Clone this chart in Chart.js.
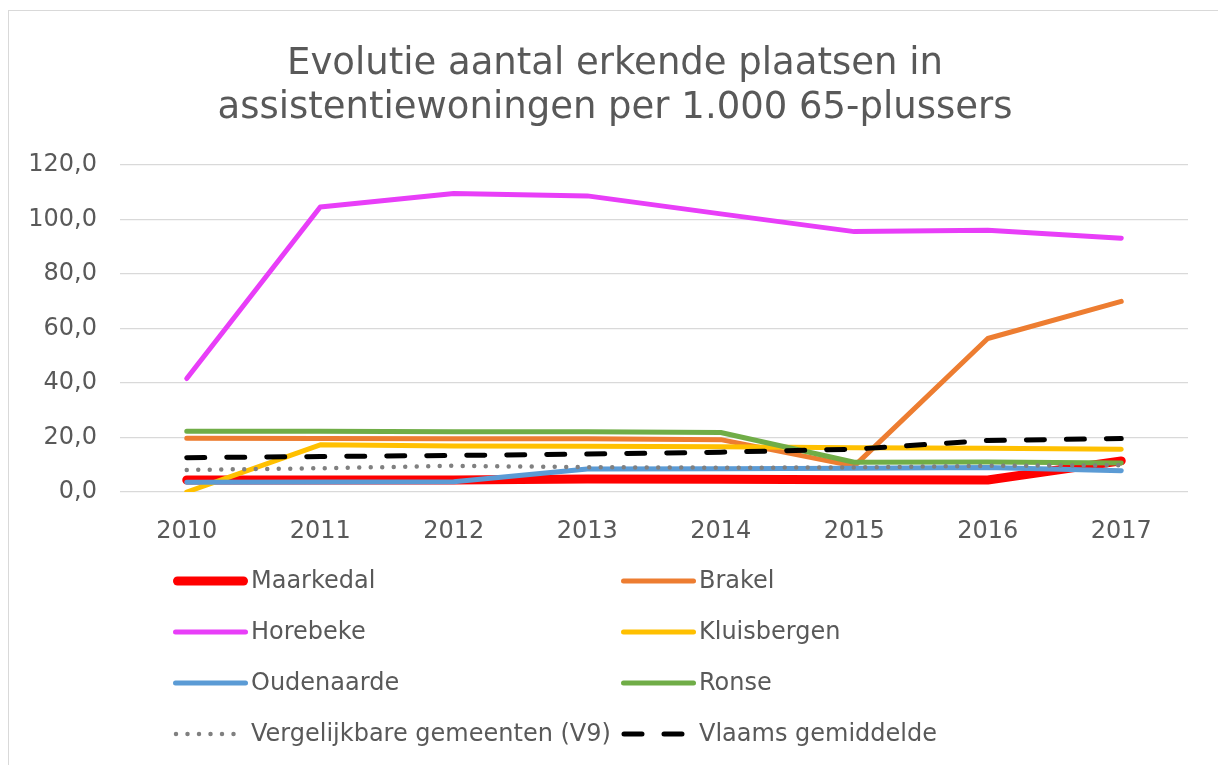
<!DOCTYPE html>
<html>
<head>
<meta charset="utf-8">
<script src="https://cdn.jsdelivr.net/npm/chart.js@4"></script>
<style>
html,body{margin:0;padding:0;background:#fff;overflow:hidden;}
#wrap{position:absolute;left:0;top:0;width:1218px;height:765px;}
#frame{position:absolute;left:8px;top:10px;width:1400px;height:1000px;border:1px solid #d9d9d9;box-sizing:border-box;}
canvas{position:absolute;left:0;top:0;}
</style>
</head>
<body>
<div id="wrap"><div id="frame"></div><canvas id="c" width="1218" height="765"></canvas></div>
<script>
const years = ['2010','2011','2012','2013','2014','2015','2016','2017'];
const seriesNames = ['Maarkedal','Brakel','Horebeke','Kluisbergen','Oudenaarde','Ronse','Vergelijkbare gemeenten (V9)','Vlaams gemiddelde'];
const maarkedal   = [4.4, 4.4, 4.4, 4.8, 4.7, 4.5, 4.4, 11.4];
const brakel      = [19.7, 19.6, 19.5, 19.5, 19.2, 9.5, 56.3, 69.9];
const horebeke    = [41.6, 104.5, 109.5, 108.6, 102.0, 95.5, 96.0, 93.1];
const kluisbergen = [0.0, 17.3, 16.9, 16.8, 16.6, 16.2, 16.0, 15.7];
const oudenaarde  = [3.6, 3.7, 3.8, 8.4, 8.5, 8.7, 9.0, 7.8];
const ronse       = [22.3, 22.3, 22.1, 22.1, 21.8, 10.9, 11.0, 10.6];
const v9          = [8.1, 8.7, 9.6, 9.1, 8.9, 9.0, 9.6, 9.8];
const vlaams      = [12.6, 13.0, 13.4, 13.9, 14.6, 15.7, 18.9, 19.6];
const yTicks = [0, 20, 40, 60, 80, 100, 120];
const titleLines = ['Evolutie aantal erkende plaatsen in', 'assistentiewoningen per 1.000 65-plussers'];

const FONT = "'DejaVu Sans', Verdana, sans-serif";
const TXT = '#595959';

const values = [maarkedal, brakel, horebeke, kluisbergen, oudenaarde, ronse, v9, vlaams];
const colors = ['#FF0000','#ED7D31','#E83EF8','#FFC000','#5B9BD5','#70AD47','#808080','#000000'];
const widths = [9, 5, 5, 5, 5, 5, 4.5, 5];
const dashes = [[],[],[],[],[],[],[0, 11.5],[18, 22]];

const datasets = values.map((v, i) => ({
  label: seriesNames[i],
  data: v,
  borderColor: colors[i],
  backgroundColor: colors[i],
  borderWidth: widths[i],
  borderDash: dashes[i],
  borderCapStyle: 'round',
  borderJoinStyle: 'round',
  pointRadius: 0,
  pointHoverRadius: 0,
  tension: 0,
  fill: false,
  yAxisID: 'y',
  order: values.length - i
}));

const legendPlugin = {
  id: 'customLegend',
  afterDraw(chart) {
    const ctx = chart.ctx;
    const cols = [173, 621];
    const rows = [581, 632, 683, 734];
    ctx.save();
    ctx.font = '24px ' + FONT;
    ctx.textBaseline = 'middle';
    ctx.textAlign = 'left';
    chart.data.datasets.forEach((ds, i) => {
      const x = cols[i % 2];
      const y = rows[Math.floor(i / 2)];
      const dashed = ds.borderDash && ds.borderDash.length;
      ctx.beginPath();
      ctx.strokeStyle = ds.borderColor;
      ctx.lineWidth = ds.borderWidth;
      ctx.lineCap = 'round';
      ctx.setLineDash(ds.borderDash || []);
      const x0 = x + (dashed ? 3 : ds.borderWidth / 2);
      const x1 = x + (dashed ? 70 : 75 - ds.borderWidth / 2);
      ctx.moveTo(x0, y);
      ctx.lineTo(x1, y);
      ctx.stroke();
      ctx.setLineDash([]);
      ctx.fillStyle = TXT;
      ctx.fillText(ds.label, x + 78, y + 1);
    });
    ctx.restore();
  }
};

new Chart(document.getElementById('c'), {
  type: 'line',
  data: { labels: years, datasets },
  options: {
    responsive: false,
    animation: false,
    devicePixelRatio: 1,
    layout: { padding: { left: 12, right: 0, top: 0, bottom: 223 } },
    plugins: {
      legend: { display: false },
      tooltip: { enabled: false },
      title: {
        display: true,
        text: titleLines,
        color: TXT,
        font: { family: FONT, size: 37, weight: 'normal', lineHeight: 1.2 },
        padding: { top: 42, bottom: 34 }
      }
    },
    scales: {
      x: {
        offset: true,
        grid: { display: false },
        border: { display: false },
        ticks: { color: TXT, font: { family: FONT, size: 24 }, padding: 17, maxRotation: 0 },
        afterFit(scale) { scale.height = 50; }
      },
      y: {
        position: 'left',
        min: 0, max: 120,
        afterBuildTicks(scale) { scale.ticks = yTicks.map(v => ({ value: v })); },
        grid: { color: '#d9d9d9', lineWidth: 1.3, drawTicks: false },
        border: { display: false },
        ticks: {
          color: TXT, font: { family: FONT, size: 24 }, padding: 23,
          callback: v => Number(v).toFixed(1).replace('.', ',')
        },
        afterFit(scale) { scale.width = 108; }
      },
      yRight: {
        position: 'right',
        display: true,
        min: 0, max: 120,
        grid: { display: false, drawOnChartArea: false },
        border: { display: false },
        ticks: { display: false },
        afterFit(scale) { scale.width = 30; }
      }
    }
  },
  plugins: [legendPlugin]
});
</script>
</body>
</html>
